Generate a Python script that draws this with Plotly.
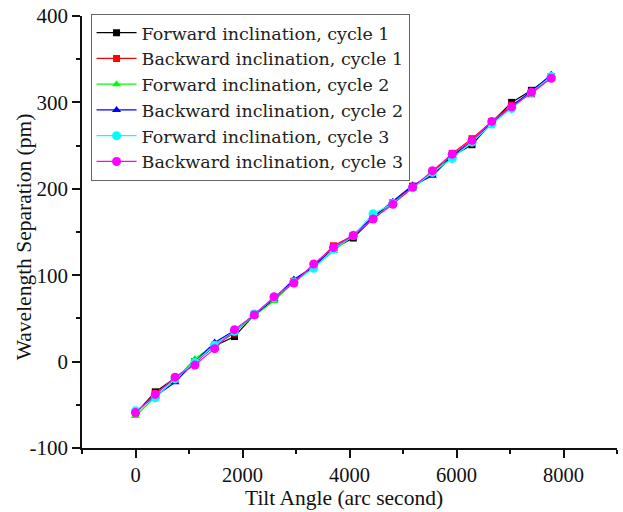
import plotly.graph_objects as go

tilt = [0, 370, 740, 1110, 1480, 1850, 2220, 2590, 2960, 3330, 3700,
        4070, 4440, 4810, 5180, 5550, 5920, 6290, 6660, 7030, 7400, 7770]

fwd1 = [-60, -35, -19, 0, 18, 29, 54, 72, 92, 110, 131,
        143, 166, 183, 203, 218, 238, 251, 277, 300, 314, 330]
bwd1 = [-60, -37, -20, -2, 19, 33, 55, 73, 93, 111, 134,
        146, 167, 184, 202, 219, 241, 258, 278, 297, 310, 329]
fwd2 = [-63, -41, -21, 3, 20, 34, 53, 70, 92, 109, 128,
        146, 166, 183, 200, 218, 237, 255, 275, 296, 312, 331]
bwd2 = [-58, -40, -24, 0, 22, 36, 54, 73, 95, 110, 130,
        147, 167, 185, 204, 215, 238, 256, 276, 296, 313, 332]
fwd3 = [-57, -42, -20, -1, 19, 35, 55, 74, 92, 108, 130,
        146, 171, 183, 201, 219, 235, 254, 275, 293, 311, 330]
bwd3 = [-59, -38, -18, -4, 15, 37, 54, 75, 91, 113, 132,
        146, 165, 182, 202, 221, 240, 256, 278, 295, 312, 328]

names = ["Forward inclination, cycle 1", "Backward inclination, cycle 1",
         "Forward inclination, cycle 2", "Backward inclination, cycle 2",
         "Forward inclination, cycle 3", "Backward inclination, cycle 3"]
series = [fwd1, bwd1, fwd2, bwd2, fwd3, bwd3]

x_ticks = [0, 2000, 4000, 6000, 8000]
x_ticklabels = ["0", "2000", "4000", "6000", "8000"]
y_ticks = [-100, 0, 100, 200, 300, 400]
y_ticklabels = ["-100", "0", "100", "200", "300", "400"]
x_title = "Tilt Angle (arc second)"
y_title = "Wavelength Separation (pm)"

colors = ["#000000", "#ff0000", "#00ff00", "#0000ff", "#00ffff", "#ff00ff"]
symbols = ["square", "square", "triangle-up", "triangle-up", "circle", "circle"]
sizes = [7, 7, 8, 8, 9, 9]

fig = go.Figure()
for nm, ys, c, s, sz in zip(names, series, colors, symbols, sizes):
    fig.add_trace(go.Scatter(
        x=tilt, y=ys, name=nm, mode="lines+markers",
        line=dict(color=c, width=1.2),
        marker=dict(color=c, symbol=s, size=sz),
    ))

font = "Liberation Serif"
axcol = "#111111"
fig.update_layout(
    width=623, height=512,
    margin=dict(l=82, r=6, t=16, b=64),
    paper_bgcolor="white", plot_bgcolor="white",
    font=dict(family=font, color=axcol),
    showlegend=True,
    legend=dict(x=0.016, y=1.005, xanchor="left", yanchor="top",
                bgcolor="white", bordercolor="#666666", borderwidth=1,
                font=dict(family="DejaVu Serif", size=17.5, color="#222222"),
                tracegroupgap=0, itemwidth=40),
    xaxis=dict(range=[-1000, 9000], tickvals=x_ticks, ticktext=x_ticklabels,
               automargin=False,
               showgrid=False, zeroline=False, showline=True,
               linecolor=axcol, linewidth=1.6,
               ticks="outside", ticklen=8, tickwidth=1.6, tickcolor=axcol,
               minor=dict(tickvals=[-1000, 1000, 3000, 5000, 7000, 9000], ticks="outside",
                          ticklen=4, tickwidth=1.6, tickcolor=axcol),
               tickfont=dict(family=font, size=20.5, color=axcol)),
    yaxis=dict(range=[-100, 400], tickvals=y_ticks, ticktext=y_ticklabels,
               automargin=False,
               showgrid=False, zeroline=False, showline=True,
               linecolor=axcol, linewidth=1.6,
               ticks="outside", ticklen=8, tickwidth=1.6, tickcolor=axcol,
               minor=dict(tickvals=[-50, 50, 150, 250, 350], ticks="outside",
                          ticklen=4, tickwidth=1.6, tickcolor=axcol),
               tickfont=dict(family=font, size=21, color=axcol)),
    annotations=[
        dict(text=x_title, xref="paper", yref="paper", x=0.49, y=-0.1165,
             xanchor="center", yanchor="middle", showarrow=False,
             font=dict(family=font, size=21.5, color=axcol)),
        dict(text=y_title, xref="paper", yref="paper", x=-0.1085, y=0.49,
             xanchor="center", yanchor="middle", textangle=-90, showarrow=False,
             font=dict(family=font, size=21.5, color=axcol)),
    ],
)

fig.write_html("out.html", config={"displayModeBar": False},
               post_script="document.body.style.margin='0px';")
